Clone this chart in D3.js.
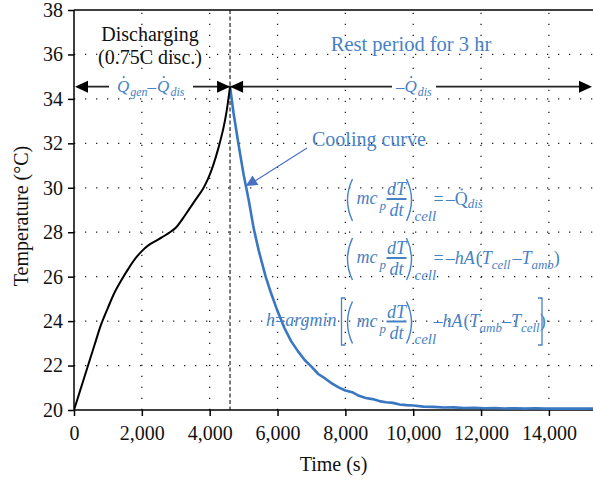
<!DOCTYPE html>
<html>
<head>
<meta charset="utf-8">
<script src="https://cdn.jsdelivr.net/npm/d3@7"></script>
<style>
  body { margin: 0; background: white; }
  text { font-family: "Liberation Serif", "Times New Roman", serif; }
</style>
</head>
<body>
<div id="chart"></div>
<script>
// discharge (black) and rest / cooling (blue) temperature traces
const dischargeTime = [0, 300, 600, 800, 1000, 1200, 1400, 1600, 1800, 2000, 2200, 2400, 2600, 2800, 3000, 3200, 3400, 3600, 3800, 3950, 4100, 4250, 4400, 4500, 4600];
const dischargeTemp = [20.0, 21.45, 22.9, 23.85, 24.6, 25.3, 25.85, 26.35, 26.8, 27.15, 27.42, 27.6, 27.78, 27.97, 28.2, 28.6, 29.05, 29.5, 29.95, 30.4, 31.0, 31.75, 32.65, 33.45, 34.55];

const coolTime = [4600, 4700, 4850, 5000, 5150, 5300, 5450, 5650, 5800, 6000, 6200, 6400, 6600, 6800, 7000, 7200, 7400, 7600, 7800, 8000, 8200, 8400, 8600, 8800, 9000, 9200, 9400, 9600, 9800, 10000, 10300, 10600, 10900, 11200, 11500, 11800, 12100, 12400, 12700, 13000, 13300, 13600, 13900, 14200, 14500, 14800, 15100, 15300];
const coolTemp = [34.55, 33.4, 31.95, 30.6, 29.45, 28.15, 27.15, 26.0, 25.3, 24.45, 23.7, 23.1, 22.65, 22.25, 21.95, 21.62, 21.42, 21.2, 21.02, 20.88, 20.8, 20.64, 20.54, 20.49, 20.4, 20.35, 20.32, 20.25, 20.22, 20.2, 20.15, 20.14, 20.11, 20.12, 20.09, 20.1, 20.08, 20.09, 20.07, 20.08, 20.06, 20.08, 20.06, 20.07, 20.06, 20.07, 20.06, 20.07];

const xTicks = [0, 2000, 4000, 6000, 8000, 10000, 12000, 14000];
const yTicks = [20, 22, 24, 26, 28, 30, 32, 34, 36, 38];

const switchTime = 4600;   // end of discharge
const peakTemp = 34.55;

const W = 593, H = 480;
const margin = {top: 10, right: 0, bottom: 70, left: 74};
const blue = '#3a77c2';
const txtBlue = '#4682c6';

const svg = d3.select('#chart').append('svg')
    .attr('width', W)
    .attr('height', H);

const x = d3.scaleLinear().domain([0, 15300]).range([margin.left, W - margin.right]);
const y = d3.scaleLinear().domain([20, 38]).range([H - margin.bottom, margin.top]);

svg.append('clipPath').attr('id', 'plot')
  .append('rect')
    .attr('x', margin.left).attr('y', margin.top - 2)
    .attr('width', W - margin.left).attr('height', H - margin.bottom - margin.top + 2);

// dotted grid
const grid = svg.append('g')
    .attr('stroke', '#222')
    .attr('stroke-width', 1.3)
    .attr('stroke-dasharray', '1.3,9.7');
grid.selectAll('.gx')
    .data(xTicks.slice(1))
    .enter().append('line')
    .attr('x1', d => x(d)).attr('x2', d => x(d))
    .attr('y1', y(20)).attr('y2', y(38));
grid.selectAll('.gy')
    .data(yTicks.slice(1, -1))
    .enter().append('line')
    .attr('x1', x(0)).attr('x2', W)
    .attr('y1', d => y(d)).attr('y2', d => y(d));

// end of discharge marker
svg.append('line')
    .attr('x1', x(switchTime)).attr('x2', x(switchTime))
    .attr('y1', y(38)).attr('y2', y(20))
    .attr('stroke', '#5a5a5a')
    .attr('stroke-width', 1.6)
    .attr('stroke-dasharray', '4,2.5');

// axes
const xAxis = svg.append('g')
    .attr('transform', 'translate(0,' + y(20) + ')')
    .call(d3.axisBottom(x).tickValues(xTicks).tickFormat(d3.format(',')).tickSize(6).tickSizeOuter(0).tickPadding(10));
const yAxis = svg.append('g')
    .attr('transform', 'translate(' + x(0) + ',0)')
    .call(d3.axisLeft(y).tickValues(yTicks).tickSize(6).tickSizeOuter(0).tickPadding(5));
[xAxis, yAxis].forEach(a => {
  a.select('.domain').attr('stroke', '#000').attr('stroke-width', 1.5);
  a.selectAll('.tick line').attr('stroke', '#000').attr('stroke-width', 1.5);
  a.selectAll('.tick text')
      .attr('font-family', '"Liberation Serif", serif')
      .attr('font-size', 20)
      .attr('fill', '#111');
});
xAxis.select('.domain').attr('d', 'M' + x(0) + ',0H' + W);
yAxis.select('.domain').attr('d', 'M0,' + y(20) + 'V' + y(38));

// top frame
svg.append('line')
    .attr('x1', x(0)).attr('x2', W)
    .attr('y1', y(38)).attr('y2', y(38))
    .attr('stroke', '#000').attr('stroke-width', 1.5);

svg.append('text')
    .attr('x', (x(0) + W) / 2)
    .attr('y', 471)
    .attr('text-anchor', 'middle')
    .attr('font-size', 20)
    .attr('fill', '#111')
    .text('Time (s)');

svg.append('text')
    .attr('transform', 'translate(28,' + 216 + ') rotate(-90)')
    .attr('text-anchor', 'middle')
    .attr('font-size', 20)
    .attr('fill', '#111')
    .text('Temperature (°C)');

// curves
const line = d3.line().x(d => x(d[0])).y(d => y(d[1]));
const plot = svg.append('g').attr('clip-path', 'url(#plot)');

plot.append('path')
    .datum(coolTime.map((t, i) => [t, coolTemp[i]]))
    .attr('fill', 'none')
    .attr('stroke', blue)
    .attr('stroke-width', 2.6)
    .attr('stroke-linejoin', 'round')
    .attr('d', line);

plot.append('path')
    .datum(dischargeTime.map((t, i) => [t, dischargeTemp[i]]))
    .attr('fill', 'none')
    .attr('stroke', '#000')
    .attr('stroke-width', 2)
    .attr('d', line.curve(d3.curveCatmullRom.alpha(0.5)));

// heat-flow arrows
const ay = y(peakTemp);
const xm = x(switchTime);
const arrows = svg.append('g');
arrows.append('line')
    .attr('x1', x(0) + 4).attr('x2', W - 4)
    .attr('y1', ay).attr('y2', ay)
    .attr('stroke', '#222').attr('stroke-width', 1.6);
function head(tipX, dir) {
  arrows.append('path')
      .attr('d', 'M' + tipX + ',' + ay + 'L' + (tipX - dir * 13) + ',' + (ay - 6) + 'L' + (tipX - dir * 13) + ',' + (ay + 6) + 'Z')
      .attr('fill', '#000');
}
head(x(0) + 1, -1);
head(xm, 1);
head(xm, -1);
head(W - 1, 1);

// math helpers: lay pieces out one after another
function run(g, x0, yb, parts) {
  let cx = x0;
  parts.forEach(p => {
    const s = p.s || 18;
    const t = g.append('text')
        .attr('x', cx)
        .attr('y', yb + (p.dy || 0))
        .attr('font-size', s)
        .attr('font-style', p.up ? 'normal' : 'italic')
        .attr('fill', txtBlue)
        .text(p.t);
    const w = t.node().getComputedTextLength();
    if (p.dot) {
      g.append('circle')
          .attr('cx', cx + w * 0.55)
          .attr('cy', yb - s * 0.86)
          .attr('r', 1.1)
          .attr('fill', txtBlue);
    }
    cx += w + (p.gap || 0);
  });
  return cx;
}

function labelBox(cx, w) {
  arrows.append('rect')
      .attr('x', cx - w / 2).attr('y', ay - 10)
      .attr('width', w).attr('height', 20)
      .attr('fill', 'white');
}
labelBox(151, 84);
labelBox(414, 44);
run(arrows, 117, ay + 5, [{t: 'Q', s: 17, dot: true, gap: 1}, {t: 'gen', s: 12, dy: 4}, {t: '–', s: 17, up: true, gap: 1}, {t: 'Q', s: 17, dot: true, gap: 1}, {t: 'dis', s: 12, dy: 4}]);
run(arrows, 396, ay + 5, [{t: '–', s: 17, up: true}, {t: 'Q', s: 17, dot: true, gap: 1}, {t: 'dis', s: 12, dy: 4}]);

// text annotations
svg.append('text')
    .attr('x', 150).attr('y', 41)
    .attr('text-anchor', 'middle')
    .attr('font-size', 20).attr('fill', '#111')
    .text('Discharging');
svg.append('text')
    .attr('x', 150).attr('y', 64)
    .attr('text-anchor', 'middle')
    .attr('font-size', 20).attr('fill', '#111')
    .text('(0.75C disc.)');
svg.append('text')
    .attr('x', 411).attr('y', 51)
    .attr('text-anchor', 'middle')
    .attr('font-size', 20.5).attr('fill', txtBlue)
    .text('Rest period for 3 hr');
svg.append('text')
    .attr('x', 312).attr('y', 146)
    .attr('font-size', 20).attr('fill', txtBlue)
    .text('Cooling curve');

// pointer to the cooling curve
svg.append('line')
    .attr('x1', 307).attr('y1', 148)
    .attr('x2', 255).attr('y2', 181)
    .attr('stroke', '#4a70c4').attr('stroke-width', 1.1);
svg.append('path')
    .attr('d', 'M245.7,186L252.5,175.5L258.5,185Z')
    .attr('fill', '#4a70c4');

// equations
const eq = svg.append('g');
function block(x0, yb) {
  eq.append('path')
      .attr('d', 'M' + (x0 + 6) + ',' + (yb - 20) + 'Q' + (x0 - 4) + ',' + (yb + 1) + ' ' + (x0 + 6) + ',' + (yb + 22))
      .attr('fill', 'none').attr('stroke', txtBlue).attr('stroke-width', 1.4);
  eq.append('path')
      .attr('d', 'M' + (x0 + 60) + ',' + (yb - 20) + 'Q' + (x0 + 70) + ',' + (yb + 1) + ' ' + (x0 + 60) + ',' + (yb + 22))
      .attr('fill', 'none').attr('stroke', txtBlue).attr('stroke-width', 1.4);
  run(eq, x0 + 10, yb + 5, [{t: 'mc', s: 18, gap: 2}, {t: 'p', s: 13, dy: 6}]);
  eq.append('text').attr('x', x0 + 50).attr('y', yb - 4).attr('text-anchor', 'middle')
      .attr('font-size', 18).attr('font-style', 'italic').attr('fill', txtBlue).text('dT');
  eq.append('line').attr('x1', x0 + 40).attr('x2', x0 + 60).attr('y1', yb).attr('y2', yb)
      .attr('stroke', txtBlue).attr('stroke-width', 2);
  eq.append('text').attr('x', x0 + 50).attr('y', yb + 17).attr('text-anchor', 'middle')
      .attr('font-size', 18).attr('font-style', 'italic').attr('fill', txtBlue).text('dt');
  run(eq, x0 + 68, yb + 22, [{t: 'cell', s: 15}]);
}
const ex = 346.5;
block(ex, 199);
run(eq, ex + 87, 205, [{t: '=', s: 18, up: true, gap: 2}, {t: '–', s: 18, up: true}, {t: 'Q', s: 18, up: true, dot: true}, {t: 'dis', s: 13, dy: 3}]);

block(ex, 258);
run(eq, ex + 87, 264, [{t: '=', s: 18, up: true, gap: 2}, {t: '–', s: 18, up: true}, {t: 'hA', s: 18, gap: 1}, {t: '(', s: 18, up: true}, {t: 'T', s: 18}, {t: 'cell', s: 13, dy: 5, gap: 2}, {t: '–', s: 18, up: true}, {t: 'T', s: 18}, {t: 'amb', s: 13, dy: 5}, {t: ')', s: 18, up: true}]);

run(eq, 266, 326, [{t: 'h', s: 18}, {t: '=', s: 18, up: true}, {t: 'argmin', s: 18}]);
eq.append('path').attr('d', 'M' + (ex - 1) + ',298H' + (ex - 5) + 'V345H' + (ex - 1))
    .attr('fill', 'none').attr('stroke', txtBlue).attr('stroke-width', 1.3);
block(ex, 321.5);
run(eq, ex + 87, 327, [{t: '–', s: 18, up: true}, {t: 'hA', s: 18, gap: 1}, {t: '(', s: 18, up: true}, {t: 'T', s: 18}, {t: 'amb', s: 13, dy: 5}, {t: '–', s: 18, up: true}, {t: 'T', s: 18}, {t: 'cell', s: 13, dy: 5}, {t: ')', s: 18, up: true}]);
eq.append('path').attr('d', 'M538,298H542V345H538')
    .attr('fill', 'none').attr('stroke', txtBlue).attr('stroke-width', 1.3);
</script>
</body>
</html>
